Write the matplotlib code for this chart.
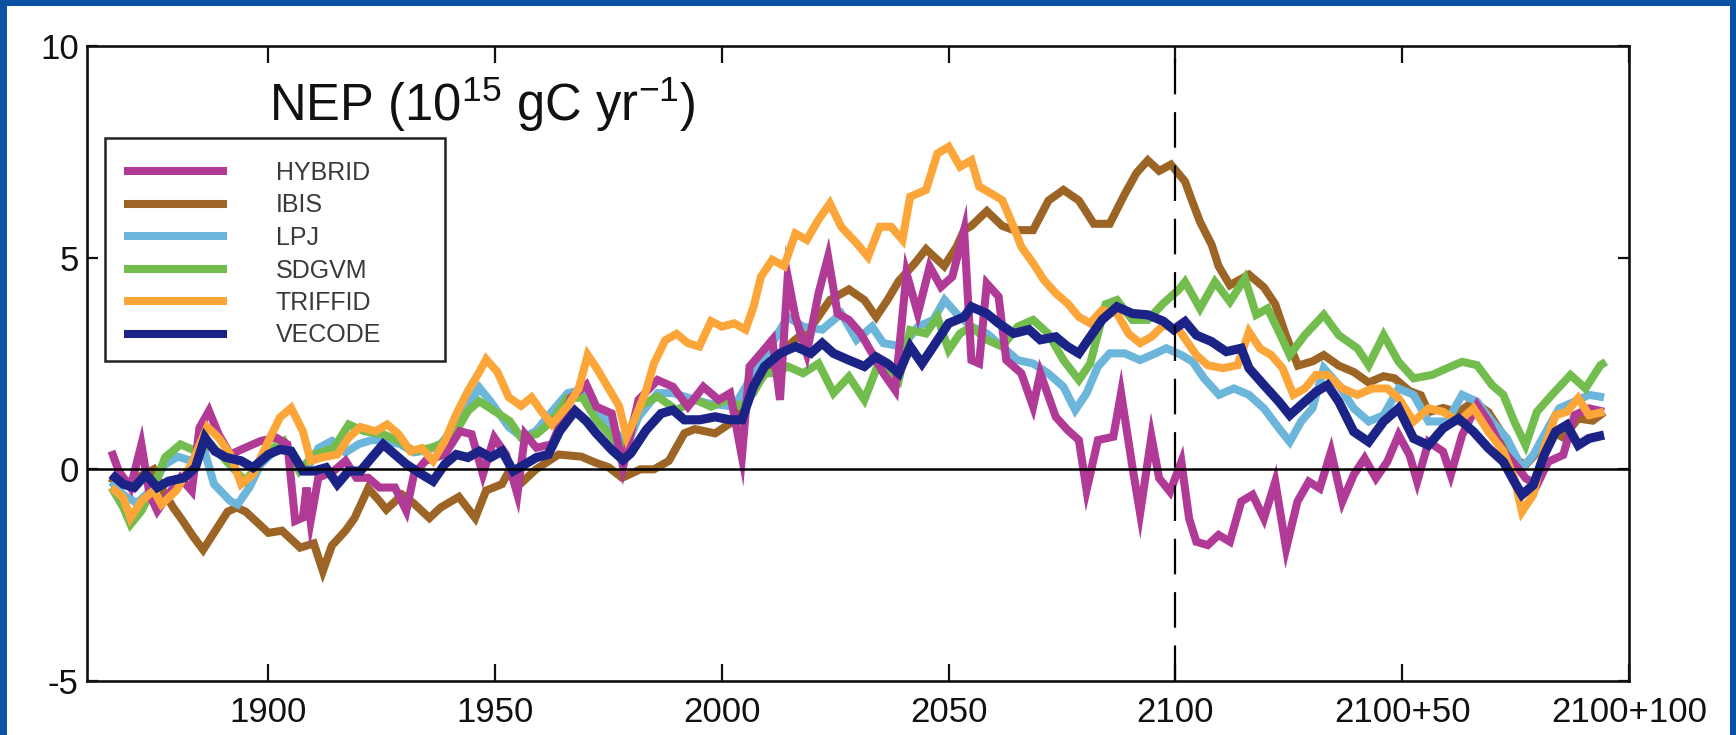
import matplotlib
matplotlib.use("Agg")
import matplotlib.pyplot as plt
from matplotlib.patches import Rectangle
from matplotlib.lines import Line2D

plt.rcParams['font.family'] = ['Liberation Sans', 'DejaVu Sans']
plt.rcParams['mathtext.fontset'] = 'custom'
plt.rcParams['mathtext.rm'] = 'Liberation Sans'
plt.rcParams['mathtext.it'] = 'Liberation Sans:italic'
plt.rcParams['mathtext.bf'] = 'Liberation Sans:bold'

# ---------------- data ----------------
hybrid_year = [1865.4, 1867, 1869.6, 1872, 1873.8, 1875.5, 1878, 1880.6, 1883.1, 1884.8,
               1886.9, 1889, 1891.6, 1894.9, 1898.3, 1901.7, 1904.2, 1905.9, 1907.6, 1908.4,
               1909.3, 1911, 1914.4, 1917, 1919.4, 1922, 1924.5, 1927.9, 1930.4, 1932.1,
               1934.6, 1938.9, 1942.2, 1944.8, 1947.3, 1949.8, 1952.4, 1954.9, 1956.6, 1959.1,
               1962.5, 1966.7, 1970.1, 1972.3, 1975.7, 1978.2, 1981.6, 1985.8, 1989.2, 1992.5,
               1995.9, 1999.3, 2001.8, 2004.4, 2006.1, 2008.6, 2011.1, 2012.8, 2014.5, 2016.2,
               2018.7, 2021.3, 2023.4, 2025.5, 2028, 2030.6, 2033.1, 2035.6, 2038.2, 2040.7,
               2043.2, 2045.8, 2048.3, 2050.8, 2053.4, 2055, 2056.7, 2058.4, 2061, 2062.7,
               2066, 2068.6, 2070.2, 2073.6, 2076.2, 2078.7, 2080.4, 2082.9, 2086.3, 2088,
               2090.5, 2092.2, 2094.7, 2096.4, 2098.8, 2101.3, 2103, 2104.6, 2107.1, 2109.5,
               2112, 2114.5, 2117, 2119.5, 2122, 2124.4, 2126.9, 2129.4, 2131.8, 2134.3,
               2136.8, 2139.3, 2141.7, 2144.2, 2146.7, 2149.2, 2151.6, 2153.3, 2155.8, 2159,
               2160.7, 2163.2, 2166.5, 2169, 2172.3, 2175.6, 2177.2, 2179.7, 2182.2, 2185.5,
               2188, 2191.2, 2194.5]
hybrid_nep = [0.43, -0.04, -0.43, 0.59, -0.59, -0.98, -0.59, -0.2, -0.51, 0.98,
              1.38, 0.83, 0.35, 0.51, 0.67, 0.75, 0.59, -1.22, -1.14, -0.43,
              -1.22, -0.2, -0.04, 0.2, -0.2, -0.2, -0.43, -0.43, -0.98, -0.12,
              0.2, 0.35, 0.9, 0.83, -0.12, 0.75, 0.35, -0.59, 0.83, 0.51,
              0.59, 1.69, 2.0, 1.48, 1.32, 0.06, 1.64, 2.11, 1.95, 1.48,
              1.95, 1.64, 1.8, 0.3, 2.43, 2.74, 3.06, 1.64, 4.55, 3.6,
              2.74, 4.16, 5.02, 3.68, 3.53, 3.21, 2.74, 2.27, 1.87, 4.63,
              3.68, 4.79, 4.31, 4.55, 5.65, 2.58, 2.5, 4.39, 4.08, 2.58,
              2.27, 1.48, 2.27, 1.24, 0.93, 0.69, -0.49, 0.69, 0.77, 1.8,
              0.06, -1.04, 0.77, -0.21, -0.53, 0.18, -1.16, -1.71, -1.79, -1.55,
              -1.71, -0.76, -0.6, -1.16, -0.29, -1.87, -0.76, -0.29, -0.45, 0.42,
              -0.76, -0.13, 0.26, -0.21, 0.18, 0.81, 0.34, -0.29, 0.65, 0.42,
              -0.13, 0.81, 1.52, 1.13, 0.42, 0.02, -0.21, -0.37, 0.18, 0.34,
              1.28, 1.44, 1.36]

ibis_year = [1865, 1868, 1871, 1874.7, 1877, 1879, 1881, 1883.5, 1885.6, 1888,
             1891, 1893, 1895, 1897.5, 1900, 1903, 1907, 1910, 1912, 1914,
             1917, 1919, 1922, 1924.5, 1926, 1929.5, 1932, 1935.5, 1938, 1942,
             1945.6, 1948, 1951.5, 1953, 1956, 1959, 1964, 1969, 1972.3, 1975,
             1978, 1982, 1985, 1988.3, 1991.7, 1994, 1998.5, 2002.7, 2007, 2013,
             2016, 2019.6, 2023.8, 2028, 2031.4, 2034, 2036.5, 2039, 2042.4, 2045,
             2049, 2051.7, 2053.4, 2055, 2058.4, 2061.8, 2064.3, 2068.6, 2072, 2075.3,
             2078.7, 2082, 2085.5, 2088.8, 2091.4, 2093.9, 2096.4, 2099, 2102.1, 2103.8,
             2105.4, 2108, 2109.5, 2112, 2114.5, 2116.2, 2119.5, 2122, 2124.4, 2127,
             2130.2, 2132.7, 2136, 2139.3, 2142.6, 2145.9, 2148.3, 2151.6, 2154.1, 2155.8,
             2159, 2162.4, 2165.7, 2169, 2172.3, 2175.6, 2177.2, 2180.5, 2183, 2185.5,
             2188.8, 2192, 2194.5]
ibis_nep = [-0.2, -0.35, -0.2, 0.0, -0.55, -0.9, -1.2, -1.6, -1.9, -1.5,
            -1.0, -0.9, -1.0, -1.25, -1.5, -1.45, -1.85, -1.75, -2.4, -1.8,
            -1.45, -1.15, -0.45, -0.75, -0.95, -0.6, -0.8, -1.15, -0.9, -0.65,
            -1.15, -0.5, -0.35, -0.05, -0.3, 0.0, 0.35, 0.3, 0.15, 0.05,
            -0.2, 0.0, 0.0, 0.2, 0.85, 0.95, 0.85, 1.15, 1.9, 2.75,
            3.05, 3.35, 4.0, 4.25, 4.0, 3.6, 4.0, 4.45, 4.85, 5.2,
            4.8, 5.25, 5.65, 5.75, 6.1, 5.75, 5.65, 5.65, 6.35, 6.6,
            6.35, 5.8, 5.8, 6.5, 7.0, 7.3, 7.05, 7.2, 6.8, 6.3,
            5.85, 5.3, 4.8, 4.35, 4.5, 4.6, 4.3, 3.9, 3.15, 2.45,
            2.55, 2.7, 2.45, 2.3, 2.05, 2.2, 2.15, 1.85, 1.75, 1.35,
            1.45, 1.35, 1.6, 1.35, 0.8, 0.2, 0.1, 0.5, 0.9, 0.75,
            1.2, 1.15, 1.35]

lpj_year = [1865.4, 1868, 1871, 1874, 1877, 1880, 1883, 1886, 1888, 1891.6,
            1893.2, 1895.8, 1898.3, 1901, 1904, 1907, 1909, 1911, 1914, 1917,
            1920, 1923, 1926, 1929, 1932, 1935, 1938, 1941, 1944, 1946.5,
            1949, 1953, 1956, 1959, 1962, 1966, 1968.9, 1972.3, 1975.7, 1979,
            1981.6, 1985.8, 1989.2, 1994.2, 1996.8, 2002.7, 2006.1, 2011.1, 2014.5, 2017.9,
            2022.1, 2026.3, 2029.7, 2033.1, 2035.6, 2039.8, 2043.2, 2046.6, 2049.1, 2051.7,
            2055, 2058.4, 2061.8, 2065.2, 2068.6, 2071.9, 2075.3, 2077.9, 2080.4, 2082.9,
            2085.5, 2088.8, 2092.2, 2095.6, 2098, 2101.3, 2103.8, 2106.3, 2109.6, 2112.9,
            2116.2, 2119.5, 2122.8, 2125.2, 2127.7, 2130.2, 2132.7, 2136, 2139.3, 2142.6,
            2145.9, 2149.2, 2152.5, 2155.8, 2159.9, 2163.2, 2166.5, 2169.8, 2173.1, 2176.4,
            2178.9, 2181.3, 2184.6, 2188, 2191.2, 2194.5]
lpj_nep = [-0.3, -0.6, -0.8, -0.5, 0.1, 0.3, 0.2, 0.4, -0.35, -0.75,
           -0.83, -0.43, 0.12, 0.4, 0.5, 0.0, 0.1, 0.5, 0.67, 0.4,
           0.6, 0.7, 0.65, 0.6, 0.4, 0.45, 0.6, 1.0, 1.5, 1.93,
           1.6, 1.0, 0.75, 0.9, 1.3, 1.8, 1.87, 1.48, 1.0, 0.54,
           1.24, 1.8, 1.8, 1.64, 1.56, 1.48, 2.11, 2.98, 3.6, 3.37,
           3.3, 3.68, 3.06, 3.37, 2.98, 2.9, 3.37, 3.53, 4.0, 3.68,
           3.37, 3.21, 2.9, 2.58, 2.5, 2.27, 1.95, 1.4, 1.8, 2.43,
           2.74, 2.74, 2.58, 2.74, 2.86, 2.7, 2.54, 2.15, 1.76, 1.91,
           1.76, 1.44, 0.97, 0.65, 1.13, 1.44, 2.39, 1.99, 1.44, 1.13,
           1.28, 1.91, 1.76, 1.13, 1.13, 1.76, 1.6, 1.13, 0.73, 0.02,
           0.34, 0.81, 1.44, 1.6, 1.76, 1.7]

sdgvm_year = [1865.4, 1868, 1869.6, 1872, 1874.7, 1877.2, 1880.6, 1884, 1887.3, 1890.7,
              1894.9, 1900, 1903.4, 1906.8, 1910.1, 1914.4, 1917.7, 1921.1, 1925.3, 1928.7,
              1932.1, 1935.5, 1938, 1941.4, 1944, 1946.5, 1949.8, 1953.2, 1955.7, 1959.1,
              1962.5, 1965.9, 1969.3, 1972.3, 1975.7, 1978.2, 1981.6, 1985.8, 1990, 1994.2,
              1997.6, 2001, 2004.4, 2006.9, 2009.4, 2012, 2014.5, 2017.9, 2021.3, 2024.6,
              2028, 2031.4, 2034.8, 2039, 2041.5, 2045, 2047.5, 2050, 2052.5, 2055,
              2058.4, 2061.8, 2065.2, 2068.6, 2071.9, 2075.3, 2078.7, 2081.2, 2084.6, 2087.1,
              2090.5, 2093.9, 2097.3, 2100.7, 2102.1, 2105.4, 2108.7, 2112, 2115.3, 2117.8,
              2120.3, 2122.8, 2125.2, 2128.5, 2132.7, 2136, 2140.1, 2142.6, 2145.9, 2149.2,
              2152.5, 2156.6, 2159.9, 2163.2, 2166.5, 2169.8, 2172.3, 2174.7, 2177.2, 2179.7,
              2183, 2187.1, 2190.4, 2193.7, 2194.9]
sdgvm_nep = [-0.43, -0.9, -1.3, -0.98, -0.43, 0.28, 0.59, 0.43, 0.59, 0.2,
             -0.28, 0.43, 0.67, -0.04, 0.35, 0.5, 1.06, 0.9, 0.83, 0.67,
             0.43, 0.5, 0.59, 0.9, 1.38, 1.61, 1.38, 1.14, 0.75, 0.83,
             1.14, 1.69, 1.69, 1.17, 0.77, 0.46, 1.48, 1.72, 1.4, 1.64,
             1.48, 1.64, 1.48, 1.8, 2.27, 2.27, 2.43, 2.27, 2.5, 1.8,
             2.19, 1.64, 2.58, 2.11, 3.29, 3.21, 3.6, 2.82, 3.21, 3.37,
             3.06, 2.9, 3.37, 3.53, 3.21, 2.58, 2.11, 2.5, 3.9, 4.0,
             3.53, 3.53, 3.92, 4.24, 4.43, 3.8, 4.43, 3.96, 4.51, 3.65,
             3.8, 3.25, 2.7, 3.17, 3.65, 3.17, 2.86, 2.46, 3.17, 2.54,
             2.15, 2.23, 2.39, 2.54, 2.46, 1.99, 1.76, 1.13, 0.57, 1.36,
             1.76, 2.23, 1.91, 2.46, 2.54]

triffid_year = [1865.4, 1868, 1869.6, 1872, 1874.7, 1876.4, 1879.7, 1883, 1886.5, 1889,
                1891.6, 1894, 1896.6, 1900, 1902.5, 1905, 1907.6, 1909.3, 1911.8, 1915.2,
                1917.7, 1920.3, 1923.6, 1926.2, 1928.7, 1931.3, 1933.8, 1936.3, 1938.9, 1941.4,
                1944, 1946.5, 1948, 1950.5, 1953, 1955.7, 1958, 1960, 1962.5, 1966,
                1968.4, 1970.4, 1972.3, 1974.8, 1977.3, 1979, 1980.7, 1983.3, 1985, 1987.5,
                1990, 1992.5, 1995, 1997.6, 2000, 2002.7, 2005.2, 2007, 2008.6, 2011.1,
                2013.7, 2016.2, 2018.7, 2021.3, 2023.8, 2026.3, 2029.7, 2032.2, 2034.8, 2037.3,
                2039.8, 2041.5, 2045, 2047.5, 2050, 2052.5, 2055, 2056.7, 2059.3, 2061.8,
                2064.3, 2066, 2068.6, 2071, 2073.6, 2076.2, 2078.7, 2081.2, 2083.8, 2087.1,
                2089.7, 2092.2, 2094.7, 2097.3, 2100.7, 2104.6, 2107.1, 2110.4, 2113.7, 2116.2,
                2118.6, 2121.1, 2123.6, 2126, 2128.5, 2131, 2133.5, 2136.8, 2140.1, 2143.4,
                2146.7, 2149.2, 2152.5, 2155.8, 2159, 2162.4, 2165.7, 2169, 2172.3, 2174.7,
                2176.4, 2178.9, 2181.3, 2183.8, 2186.3, 2188.8, 2191.2, 2194.5]
triffid_nep = [-0.43, -0.67, -1.15, -0.75, -0.5, -0.83, -0.5, 0.12, 1.0, 0.75,
               0.35, -0.35, -0.12, 0.67, 1.22, 1.45, 0.9, 0.2, 0.28, 0.35,
               0.75, 1.0, 0.9, 1.06, 0.83, 0.43, 0.5, 0.2, 0.67, 1.3,
               1.85, 2.3, 2.6, 2.3, 1.7, 1.5, 1.7, 1.4, 1.06, 1.5,
               1.9, 2.7, 2.4, 1.95, 1.5, 0.77, 1.17, 1.87, 2.5, 3.05,
               3.2, 2.98, 2.9, 3.5, 3.37, 3.45, 3.3, 3.85, 4.55, 4.95,
               4.8, 5.57, 5.42, 5.9, 6.28, 5.73, 5.34, 5.02, 5.73, 5.73,
               5.42, 6.44, 6.6, 7.46, 7.62, 7.15, 7.3, 6.68, 6.52, 6.36,
               5.73, 5.26, 4.87, 4.47, 4.16, 3.92, 3.6, 3.45, 3.76, 3.68,
               3.2, 2.98, 3.13, 3.4, 3.3, 2.7, 2.46, 2.39, 2.46, 3.25,
               2.86, 2.7, 2.39, 1.76, 1.91, 2.23, 2.23, 1.91, 1.76, 1.91,
               1.91, 1.68, 1.13, 1.44, 1.36, 1.13, 1.44, 0.89, 0.42, -0.21,
               -1.0, -0.6, 0.5, 1.28, 1.36, 1.68, 1.28, 1.36]

vecode_year = [1865.4, 1868, 1870.4, 1873, 1875.5, 1878, 1881.4, 1883.9, 1886, 1888.2,
               1890.7, 1894, 1896.6, 1900, 1902.5, 1905, 1907.6, 1910, 1912.7, 1915.2,
               1917.7, 1920.3, 1922.8, 1925.3, 1927.9, 1930.4, 1933.8, 1936.3, 1938.9, 1941.4,
               1944, 1946.5, 1949, 1951.5, 1954, 1956.6, 1959.1, 1961.7, 1964.2, 1967.6,
               1970.1, 1972.3, 1975.7, 1978.2, 1979.9, 1983.3, 1986.6, 1989.2, 1991.7, 1995.1,
               1998.5, 2001.8, 2004.4, 2006.9, 2009.4, 2012.8, 2016.2, 2019.6, 2022.1, 2024.6,
               2028, 2031.4, 2033.9, 2036.5, 2039, 2041.5, 2044.1, 2046.6, 2050, 2053.4,
               2055, 2058.4, 2061, 2064.3, 2067.7, 2070.2, 2073.6, 2076.2, 2078.7, 2081.2,
               2083.8, 2087.1, 2090.5, 2093.9, 2097.3, 2099.6, 2102.1, 2104.6, 2107.9, 2111.2,
               2114.5, 2116.2, 2119.5, 2122.8, 2125.2, 2127.7, 2131, 2133.5, 2136, 2139.3,
               2142.6, 2145.9, 2149.2, 2152.5, 2155.8, 2159, 2162.4, 2165.7, 2169, 2172.3,
               2174.7, 2176.4, 2178.9, 2181.3, 2183.8, 2186.3, 2188.8, 2191.2, 2194.5]
vecode_nep = [-0.12, -0.35, -0.43, -0.12, -0.43, -0.28, -0.2, 0.04, 0.75, 0.43,
              0.28, 0.2, 0.04, 0.35, 0.47, 0.43, -0.04, -0.04, 0.04, -0.35,
              -0.04, -0.04, 0.28, 0.59, 0.35, 0.12, -0.12, -0.28, 0.12, 0.35,
              0.28, 0.43, 0.28, 0.43, -0.04, 0.12, 0.28, 0.35, 0.9, 1.38,
              1.14, 0.85, 0.46, 0.22, 0.38, 0.93, 1.32, 1.4, 1.17, 1.17,
              1.24, 1.17, 1.17, 1.95, 2.43, 2.74, 2.9, 2.74, 2.98, 2.74,
              2.58, 2.43, 2.66, 2.5, 2.27, 2.9, 2.5, 2.9, 3.45, 3.6,
              3.84, 3.68, 3.45, 3.21, 3.3, 3.06, 3.13, 2.9, 2.74, 3.13,
              3.53, 3.84, 3.68, 3.65, 3.5, 3.3, 3.49, 3.17, 3.02, 2.78,
              2.86, 2.39, 1.99, 1.6, 1.28, 1.52, 1.83, 1.99, 1.6, 0.89,
              0.65, 1.13, 1.44, 0.73, 0.57, 0.97, 1.2, 0.89, 0.5, 0.18,
              -0.29, -0.6, -0.37, 0.34, 0.89, 1.05, 0.57, 0.73, 0.81]

model_names = ['HYBRID', 'IBIS', 'LPJ', 'SDGVM', 'TRIFFID', 'VECODE']
x_ticks = [1900, 1950, 2000, 2050, 2100, 2150, 2200]
x_ticklabels = ['1900', '1950', '2000', '2050', '2100', '2100+50', '2100+100']
y_ticks = [-5, 0, 5, 10]

# ---------------- styling ----------------
colors = {
    'HYBRID': '#b03a96',
    'IBIS': '#9c6526',
    'LPJ': '#6cb6dc',
    'SDGVM': '#72bd4e',
    'TRIFFID': '#fca63a',
    'VECODE': '#1c2387',
}
series = {
    'HYBRID': (hybrid_year, hybrid_nep),
    'IBIS': (ibis_year, ibis_nep),
    'LPJ': (lpj_year, lpj_nep),
    'SDGVM': (sdgvm_year, sdgvm_nep),
    'TRIFFID': (triffid_year, triffid_nep),
    'VECODE': (vecode_year, vecode_nep),
}
draw_order = ['IBIS', 'LPJ', 'SDGVM', 'HYBRID', 'TRIFFID', 'VECODE']

W, H = 1736, 735
fig = plt.figure(figsize=(W / 100, H / 100), dpi=100, facecolor='#0a52a3')
fig.add_artist(Rectangle((7 / W, 0), (1730 - 7) / W, (H - 6) / H,
                         transform=fig.transFigure, facecolor='white',
                         edgecolor='none', zorder=0))

ax_l, ax_r, ax_t, ax_b = 87, 1629, 46, 681
ax = fig.add_axes([ax_l / W, (H - ax_b) / H, (ax_r - ax_l) / W, (ax_b - ax_t) / H])
ax.set_facecolor('white')

for i, name in enumerate(draw_order):
    xs, ys = series[name]
    lw = 6.6 if name == 'VECODE' else 5.8
    ax.plot(xs, ys, color=colors[name], lw=lw, solid_joinstyle='miter',
            solid_capstyle='butt', zorder=2 + i)

ax.axhline(0, color='black', lw=1.8, zorder=20)
ax.axvline(2100, color='black', lw=1.6, dashes=(16, 8), zorder=20)

ax.set_xlim(1860, 2200)
ax.set_ylim(-5, 10)
ax.set_xticks(x_ticks)
ax.set_xticklabels(x_ticklabels)
ax.set_yticks(y_ticks)
ax.set_yticklabels([str(v) for v in y_ticks])
for s in ax.spines.values():
    s.set_linewidth(1.9)
    s.set_color('#111111')
ax.tick_params(axis='x', direction='in', length=12, width=1.6, top=True,
               labelsize=25, pad=11, colors='#111111')
ax.tick_params(axis='y', direction='in', length=8, width=1.6, right=True,
               labelsize=25, pad=6, colors='#111111')

# title inside the plot
ax.text(0.118, 0.882, r'NEP (10$^{15}$ gC yr$^{-1}$)', transform=ax.transAxes,
        fontsize=36.5, ha='left', va='baseline', color='#111111')

# legend
aw, ah = ax_r - ax_l, ax_b - ax_t
lx0, lx1, ly0, ly1 = 105, 445, 138, 361
ax.add_patch(Rectangle(((lx0 - ax_l) / aw, (ax_b - ly1) / ah),
                       (lx1 - lx0) / aw, (ly1 - ly0) / ah,
                       transform=ax.transAxes, fill=False, lw=1.8,
                       edgecolor='#222222', zorder=30))
handles = [Line2D([], [], color=colors[n], lw=5.8) for n in model_names]
leg = ax.legend(handles, model_names, loc='upper left',
                bbox_to_anchor=((128 - ax_l) / aw, (ax_b - 161) / ah),
                frameon=False, fontsize=18, handlelength=3.8,
                handletextpad=2.1, labelspacing=0.34, borderpad=0,
                borderaxespad=0)
for t in leg.get_texts():
    t.set_color('#3a3a3a')
leg.set_zorder(31)

fig.savefig('out.png', dpi=100, facecolor=fig.get_facecolor())
